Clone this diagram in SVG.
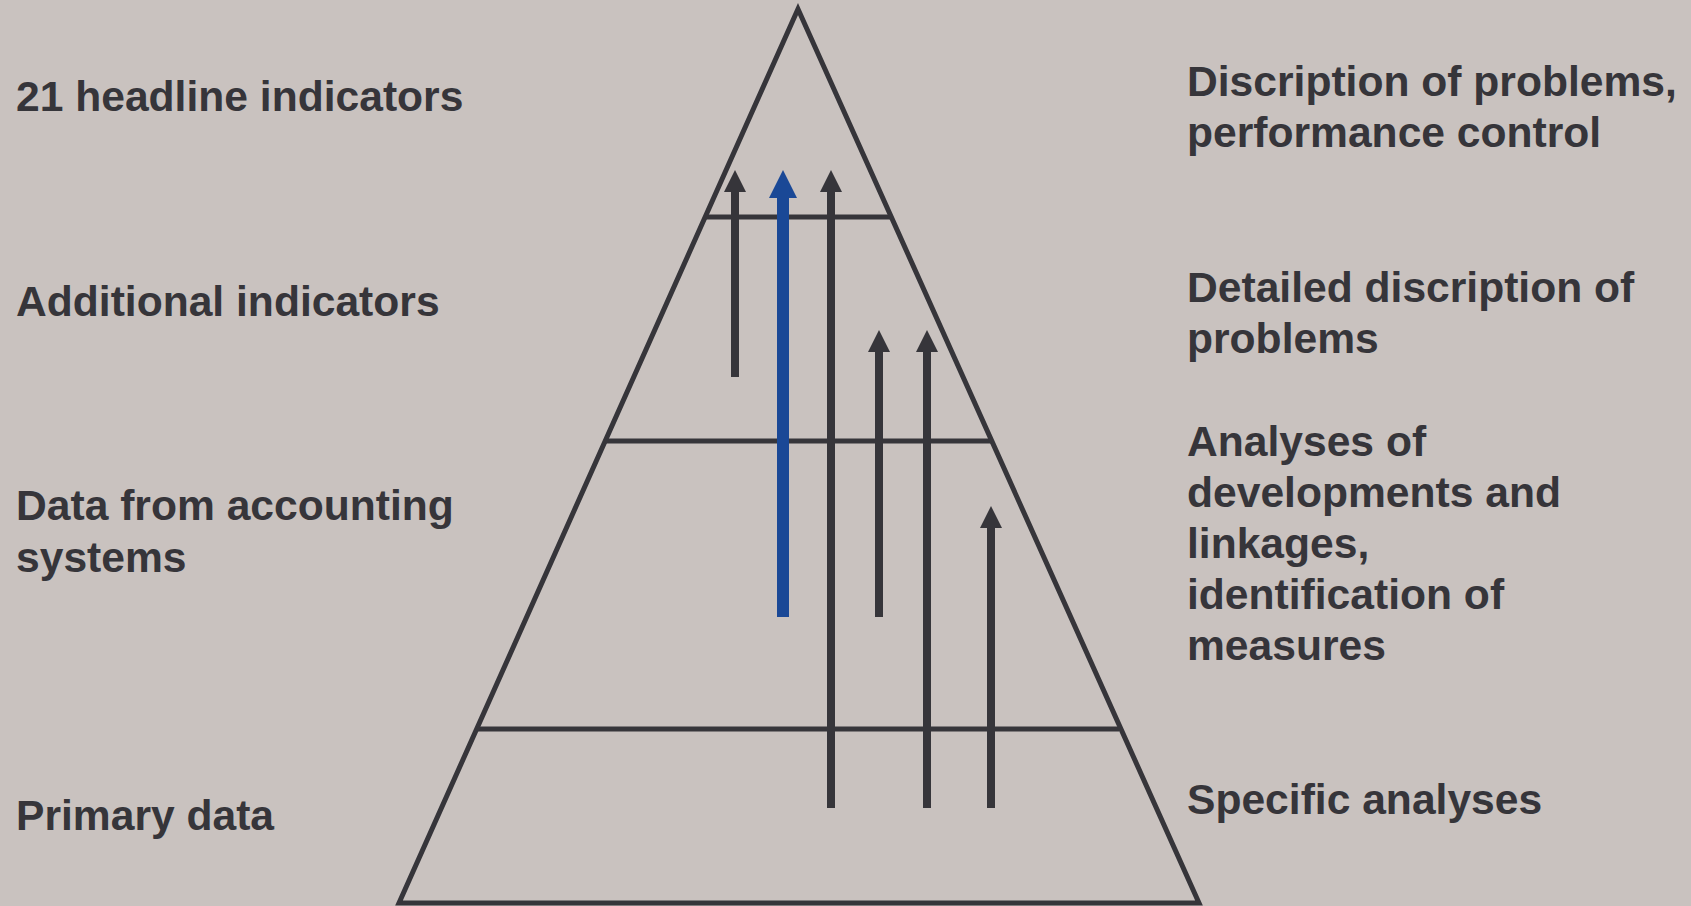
<svg xmlns="http://www.w3.org/2000/svg" width="1691" height="906" viewBox="0 0 1691 906">
<style>
.t{font-family:"Liberation Sans",Arial,sans-serif;font-weight:bold;font-size:42.6px;fill:#36353a}
.ln{stroke:#36353a;stroke-width:5;fill:none}
.sh{stroke:#36353a;stroke-width:8}
.hd{fill:#36353a}
</style>
<rect width="1691" height="906" fill="#c9c2bf"/>
<g id="pyramid">
<polygon class="ln" points="798,9 399,903 1199,903" stroke-linejoin="miter"/>
<line class="ln" x1="705" y1="217" x2="892" y2="217"/>
<line class="ln" x1="606" y1="441" x2="991" y2="441"/>
<line class="ln" x1="478" y1="729" x2="1119" y2="729"/>
</g>
<g id="connectors">
<line class="sh" x1="735" y1="190" x2="735" y2="377"/>
<polygon class="hd" points="735,170 746,192 724,192"/>
<line class="sh" x1="831" y1="190" x2="831" y2="808"/>
<polygon class="hd" points="831,170 842,192 820,192"/>
<line class="sh" x1="879" y1="350" x2="879" y2="617"/>
<polygon class="hd" points="879,330 890,352 868,352"/>
<line class="sh" x1="927" y1="350" x2="927" y2="808"/>
<polygon class="hd" points="927,330 938,352 916,352"/>
<line class="sh" x1="991" y1="526" x2="991" y2="808"/>
<polygon class="hd" points="991,506 1002,528 980,528"/>
<line stroke="#1a4896" stroke-width="12" x1="783" y1="196" x2="783" y2="617"/>
<polygon fill="#1a4896" points="783,170 797,198 769,198"/>
</g>
<g id="left-labels">
<text class="t" x="16" y="111">21 headline indicators</text>
<text class="t" x="16" y="316">Additional indicators</text>
<text class="t" x="16" y="520">Data from accounting</text>
<text class="t" x="16" y="572">systems</text>
<text class="t" x="16" y="830">Primary data</text>
</g>
<g id="right-labels">
<text class="t" x="1187" y="96">Discription of problems,</text>
<text class="t" x="1187" y="147">performance control</text>
<text class="t" x="1187" y="302">Detailed discription of</text>
<text class="t" x="1187" y="353">problems</text>
<text class="t" x="1187" y="456">Analyses of</text>
<text class="t" x="1187" y="507">developments and</text>
<text class="t" x="1187" y="558">linkages,</text>
<text class="t" x="1187" y="609">identification of</text>
<text class="t" x="1187" y="660">measures</text>
<text class="t" x="1187" y="814">Specific analyses</text>
</g>
</svg>
